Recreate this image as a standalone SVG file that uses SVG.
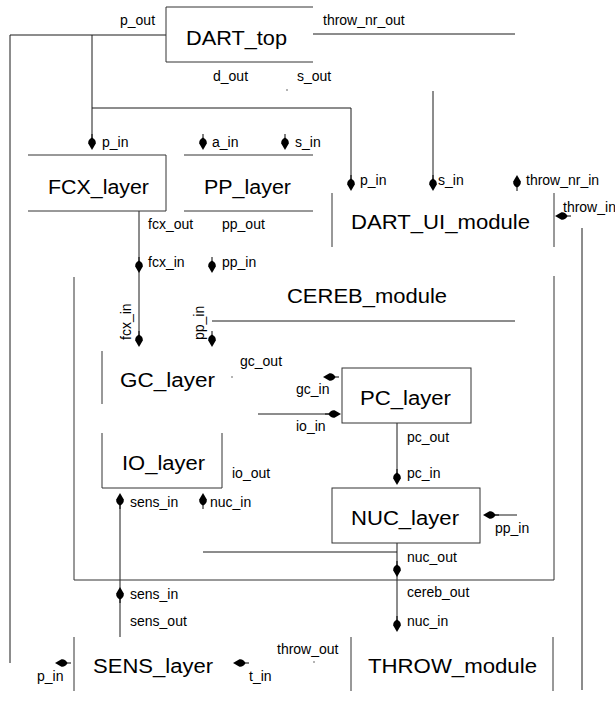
<svg xmlns="http://www.w3.org/2000/svg" xmlns:xlink="http://www.w3.org/1999/xlink" width="615" height="709" viewBox="0 0 615 709">
<style>
.ln{stroke:#1a1a1a;stroke-width:1;fill:none}
.bx{stroke:#333;stroke-width:1;fill:none}
.t{font-family:"Liberation Sans",Arial,sans-serif;font-size:20px;fill:#000}
.s{font-family:"Liberation Sans",Arial,sans-serif;font-size:14px;fill:#000}
.ah{fill:#000}
</style>
<defs>
<g id="ad"><path d="M0,-16V-8" stroke="#000" stroke-width="1"/><path class="ah" d="M0,0 L-3.8,-6.5 Q-4.2,-10.5 0,-12.5 Q4.2,-10.5 3.8,-6.5 Z"/></g>
</defs>
<rect width="615" height="709" fill="#fff"/>
<g id="connectors">
<path class="ln" d="M10,35H166"/>
<path class="ln" d="M10,35V663"/>
<path class="ln" d="M92,35V142"/>
<path class="ln" d="M92,108H351V182"/>
<path class="ln" d="M313,34H515"/>
<path class="ln" d="M433,91V182"/>
<path class="ln" d="M582,228V690"/>
<path class="ln" d="M139,211V340"/>
<path class="ln" d="M212,321H515"/>
<path class="ln" d="M258,414H334"/>
<path class="ln" d="M397,423V477"/>
<path class="ln" d="M490,515H517"/>
<path class="ln" d="M397,543V625"/>
<path class="ln" d="M203,552H397"/>
<path class="ln" d="M120,500V637"/>
<use xlink:href="#ad" transform="translate(92,150)"/>
<use xlink:href="#ad" transform="translate(203,150)"/>
<use xlink:href="#ad" transform="translate(285,150)"/>
<use xlink:href="#ad" transform="translate(351,191)"/>
<use xlink:href="#ad" transform="translate(433,191)"/>
<use xlink:href="#ad" transform="translate(517,175) rotate(180)"/>
<use xlink:href="#ad" transform="translate(555,216) rotate(90)"/>
<use xlink:href="#ad" transform="translate(139,273)"/>
<use xlink:href="#ad" transform="translate(212,273)"/>
<use xlink:href="#ad" transform="translate(139,347)"/>
<use xlink:href="#ad" transform="translate(212,347)"/>
<use xlink:href="#ad" transform="translate(323,377) rotate(90)"/>
<use xlink:href="#ad" transform="translate(341,414) rotate(-90)"/>
<use xlink:href="#ad" transform="translate(397,485)"/>
<use xlink:href="#ad" transform="translate(483,515) rotate(90)"/>
<use xlink:href="#ad" transform="translate(397,577)"/>
<use xlink:href="#ad" transform="translate(397,632)"/>
<use xlink:href="#ad" transform="translate(120,493) rotate(180)"/>
<use xlink:href="#ad" transform="translate(203,493) rotate(180)"/>
<use xlink:href="#ad" transform="translate(120,587) rotate(180)"/>
<use xlink:href="#ad" transform="translate(55,663) rotate(90)"/>
<use xlink:href="#ad" transform="translate(233,663) rotate(90)"/>
<circle cx="287" cy="90" r="0.8" fill="#555"/>
<circle cx="232" cy="377" r="0.8" fill="#555"/>
<circle cx="314" cy="662" r="0.8" fill="#555"/>
</g>
<g id="DART_top">
<path class="bx" d="M313,7H166V62H313"/>
<text class="t" x="186" y="45" textLength="101" lengthAdjust="spacingAndGlyphs">DART_top</text>
<text class="s" x="120" y="25">p_out</text>
<text class="s" x="323" y="25">throw_nr_out</text>
<text class="s" x="213" y="81">d_out</text>
<text class="s" x="297" y="81">s_out</text>
</g>
<g id="FCX_layer">
<path class="bx" d="M28,155H166V211H28"/>
<text class="t" x="48" y="194" textLength="101" lengthAdjust="spacingAndGlyphs">FCX_layer</text>
<text class="s" x="102" y="147">p_in</text>
<text class="s" x="148" y="229">fcx_out</text>
</g>
<g id="PP_layer">
<path class="bx" d="M184,155H313M184,211H313"/>
<text class="t" x="204" y="194" textLength="87" lengthAdjust="spacingAndGlyphs">PP_layer</text>
<text class="s" x="212" y="147">a_in</text>
<text class="s" x="295" y="147">s_in</text>
<text class="s" x="222" y="229">pp_out</text>
</g>
<g id="DART_UI_module">
<path class="bx" d="M332,193V247M554,193V247"/>
<text class="t" x="351" y="229" textLength="179" lengthAdjust="spacingAndGlyphs">DART_UI_module</text>
<text class="s" x="360" y="185">p_in</text>
<text class="s" x="438" y="185">s_in</text>
<text class="s" x="526" y="185">throw_nr_in</text>
<text class="s" x="563" y="212">throw_in</text>
</g>
<g id="CEREB_module">
<path class="bx" d="M74,277V580H554V276"/>
<text class="t" x="287" y="303" textLength="160" lengthAdjust="spacingAndGlyphs">CEREB_module</text>
<text class="s" x="148" y="267">fcx_in</text>
<text class="s" x="222" y="267">pp_in</text>
<text class="s" x="407" y="597">cereb_out</text>
<text class="s" x="130" y="599">sens_in</text>
</g>
<g id="GC_layer">
<path class="bx" d="M102,351V404"/>
<text class="t" x="120" y="387" textLength="95" lengthAdjust="spacingAndGlyphs">GC_layer</text>
<text class="s" transform="translate(131,340) rotate(-90)">fcx_in</text>
<text class="s" transform="translate(204,340) rotate(-90)">pp_in</text>
<text class="s" x="240" y="366">gc_out</text>
</g>
<g id="PC_layer">
<rect class="bx" x="342" y="368" width="129" height="55"/>
<text class="t" x="360" y="405" textLength="91" lengthAdjust="spacingAndGlyphs">PC_layer</text>
<text class="s" x="296" y="394">gc_in</text>
<text class="s" x="296" y="431">io_in</text>
<text class="s" x="407" y="442">pc_out</text>
</g>
<g id="IO_layer">
<path class="bx" d="M102,433V488H222V433"/>
<text class="t" x="122" y="470" textLength="83" lengthAdjust="spacingAndGlyphs">IO_layer</text>
<text class="s" x="232" y="478">io_out</text>
<text class="s" x="130" y="507">sens_in</text>
<text class="s" x="210" y="507">nuc_in</text>
</g>
<g id="NUC_layer">
<rect class="bx" x="332" y="488" width="148" height="55"/>
<text class="t" x="351" y="525" textLength="108" lengthAdjust="spacingAndGlyphs">NUC_layer</text>
<text class="s" x="407" y="478">pc_in</text>
<text class="s" x="495" y="533">pp_in</text>
<text class="s" x="407" y="562">nuc_out</text>
</g>
<g id="SENS_layer">
<path class="bx" d="M74,637V691"/>
<text class="t" x="93" y="673" textLength="120" lengthAdjust="spacingAndGlyphs">SENS_layer</text>
<text class="s" x="130" y="626">sens_out</text>
<text class="s" x="37" y="681">p_in</text>
<text class="s" x="249" y="681">t_in</text>
</g>
<g id="THROW_module">
<path class="bx" d="M351,637V691M553,637V691"/>
<text class="t" x="368" y="673" textLength="169" lengthAdjust="spacingAndGlyphs">THROW_module</text>
<text class="s" x="407" y="626">nuc_in</text>
<text class="s" x="277" y="654">throw_out</text>
</g>
</svg>
